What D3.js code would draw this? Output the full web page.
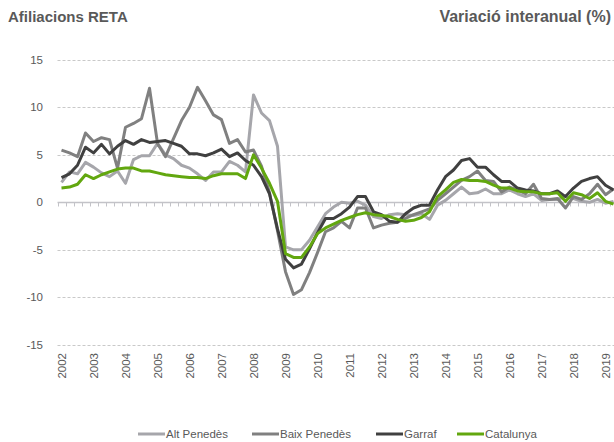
<!DOCTYPE html>
<html>
<head>
<meta charset="utf-8">
<script src="https://cdn.jsdelivr.net/npm/d3@7"></script>
<style>
  body { margin: 0; background: #fff; }
  svg { display: block; font-family: "Liberation Sans", Arial, sans-serif; }
</style>
</head>
<body>
<svg id="chart" width="614" height="442"></svg>
<script>
// quarterly data, 2002 T1 .. 2019 T2
const years = d3.range(2002, 2020);
const quarters = [];
years.forEach(y => [1, 2, 3, 4].forEach(q => quarters.push(y + "T" + q)));
const categories = quarters.slice(0, 70);

const altPenedes = [2.1, 3.2, 3.0, 4.2, 3.7, 3.1, 2.7, 3.3, 2.0, 4.5, 4.9, 4.9, 6.2, 5.0, 4.6, 3.9,
  3.6, 3.0, 2.3, 3.2, 3.2, 4.3, 3.9, 3.2, 11.3, 9.4, 8.6, 5.9, -4.7, -5.0, -5.0, -4.0,
  -2.6, -1.2, -0.5, 0.0, -0.1, 0.1, -0.3, -1.5, -1.7, -1.3, -1.2, -1.3, -1.4, -1.2, -1.8, -0.3,
  0.2, 0.9, 1.6, 0.9, 1.0, 1.4, 0.9, 0.9, 1.3, 0.9, 0.6, 0.9, 0.2, 0.3, 0.3, 0.6,
  0.4, 0.1, 0.0, 0.3, -0.1, 0.1];

const baixPenedes = [5.5, 5.2, 4.8, 7.3, 6.4, 6.8, 6.6, 3.6, 7.9, 8.3, 8.8, 12.0, 6.2, 4.8, 6.7, 8.6,
  10.0, 12.1, 10.7, 9.2, 8.7, 6.2, 6.6, 5.3, 5.5, 3.8, 1.0, -3.0, -7.3, -9.7, -9.2, -7.4,
  -5.3, -3.1, -2.7, -2.0, -2.7, -0.6, -0.6, -2.7, -2.4, -2.2, -2.1, -1.7, -1.3, -1.0, -0.7, 0.2,
  0.9, 1.6, 2.3, 2.7, 3.3, 2.3, 2.2, 1.1, 1.6, 1.3, 0.9, 1.9, 0.4, 0.3, 0.4, -0.6,
  0.6, 0.3, 0.9, 1.9, 0.8, 1.4];

const garraf = [2.6, 3.0, 3.9, 5.8, 5.2, 6.1, 5.1, 5.9, 6.5, 6.1, 6.6, 6.3, 6.4, 6.5, 6.2, 5.9,
  5.1, 5.1, 4.9, 5.2, 5.6, 4.8, 5.2, 4.4, 3.9, 2.7, 0.9, -2.8, -6.0, -6.9, -6.5, -4.9,
  -3.2, -1.7, -1.7, -1.2, -0.5, 0.6, 0.6, -1.0, -1.3, -2.0, -2.1, -1.2, -0.6, -0.3, -0.3, 1.3,
  2.7, 3.4, 4.4, 4.6, 3.7, 3.7, 2.9, 2.2, 2.2, 1.5, 1.3, 1.2, 0.9, 0.9, 1.2, 0.6,
  1.5, 2.2, 2.5, 2.7, 1.8, 1.3];

const catalunya = [1.5, 1.6, 1.9, 2.9, 2.5, 2.9, 3.2, 3.5, 3.6, 3.6, 3.3, 3.3, 3.1, 2.9, 2.8, 2.7,
  2.6, 2.6, 2.5, 2.8, 3.0, 3.0, 3.0, 2.5, 5.0, 3.6, 2.0, 0.1, -5.4, -5.8, -5.8, -4.7,
  -3.3, -2.7, -2.3, -1.9, -1.6, -1.3, -1.1, -1.3, -1.4, -1.5, -1.8, -2.0, -1.9, -1.6, -1.0, 0.6,
  1.3, 2.1, 2.4, 2.3, 2.3, 2.2, 1.8, 1.5, 1.5, 1.2, 1.1, 1.1, 0.9, 0.9, 1.0, 0.1,
  1.0, 0.8, 0.4, 1.0, 0.1, -0.2];

const seriesNames = ["Alt Penedès", "Baix Penedès", "Garraf", "Catalunya"];
const seriesValues = [altPenedes, baixPenedes, garraf, catalunya];
const colors = ["#a6a6ab", "#808080", "#404040", "#62a70f"];
const yTicks = [-15, -10, -5, 0, 5, 10, 15];

const svg = d3.select("#chart");
const textColor = "#595959";

const x = d3.scaleBand()
  .domain(categories)
  .range([57.5, 617.5]);

const y = d3.scaleLinear()
  .domain([-15, 15])
  .range([344.8, 59.8]);

// titles
svg.append("text")
  .attr("x", 8).attr("y", 22)
  .attr("font-size", 15).attr("font-weight", "bold")
  .attr("fill", textColor)
  .text("Afiliacions RETA");

svg.append("text")
  .attr("x", 611).attr("y", 22)
  .attr("text-anchor", "end")
  .attr("font-size", 16).attr("font-weight", "bold")
  .attr("fill", textColor)
  .text("Variació interanual (%)");

// gridlines
svg.append("g")
  .selectAll("line")
  .data(yTicks.filter(d => d !== 0))
  .enter()
  .append("line")
  .attr("x1", 57.5)
  .attr("x2", 614)
  .attr("y1", d => Math.round(y(d)) + 0.5)
  .attr("y2", d => Math.round(y(d)) + 0.5)
  .attr("stroke", "#c9c9c9")
  .attr("stroke-dasharray", "3,2")
  .attr("stroke-width", 1);

// y labels
const yAxis = svg.append("g")
  .attr("transform", "translate(43,0)")
  .call(d3.axisLeft(y).tickValues(yTicks).tickSize(0).tickPadding(0)
    .tickFormat(d => String(d)));
yAxis.select(".domain").remove();
yAxis.selectAll("text")
  .attr("font-size", 11.5)
  .attr("font-family", "Liberation Sans, Arial, sans-serif")
  .attr("fill", textColor);

// zero axis with quarter ticks
const y0 = Math.round(y(0)) + 0.5;
svg.append("line")
  .attr("x1", 57.5).attr("x2", 614)
  .attr("y1", y0).attr("y2", y0)
  .attr("stroke", "#c3c3c8")
  .attr("stroke-width", 1.5);

svg.append("g")
  .selectAll("line")
  .data(categories)
  .enter()
  .append("line")
  .attr("x1", d => Math.round(x(d)) + 0.5)
  .attr("x2", d => Math.round(x(d)) + 0.5)
  .attr("y1", y0)
  .attr("y2", y0 + 4)
  .attr("stroke", "#c3c3c8")
  .attr("stroke-width", 1);

// year labels (rotated)
svg.append("g")
  .selectAll("text")
  .data(categories.filter(d => d.endsWith("T1")))
  .enter()
  .append("text")
  .attr("transform", d => "translate(" + (x(d) + x.bandwidth() / 2) + ",353) rotate(-90)")
  .attr("text-anchor", "end")
  .attr("dy", "0.35em")
  .attr("font-size", 11.5)
  .attr("fill", textColor)
  .text(d => d.slice(0, 4));

// lines
const line = d3.line()
  .x((d, i) => x(categories[i]) + x.bandwidth() / 2)
  .y(d => y(d));

svg.append("g")
  .selectAll("path")
  .data(seriesValues)
  .enter()
  .append("path")
  .attr("d", line)
  .attr("fill", "none")
  .attr("stroke", (d, i) => colors[i])
  .attr("stroke-width", 3)
  .attr("stroke-linejoin", "round");

// legend
const legendX = [138, 252, 376, 457];
const legend = svg.append("g")
  .selectAll("g")
  .data(seriesNames)
  .enter()
  .append("g")
  .attr("transform", (d, i) => "translate(" + legendX[i] + ",434)");

legend.append("line")
  .attr("x1", 0).attr("x2", 27)
  .attr("stroke", (d, i) => colors[i])
  .attr("stroke-width", 3);

legend.append("text")
  .attr("x", 28)
  .attr("dy", "0.35em")
  .attr("font-size", 11.5)
  .attr("fill", textColor)
  .text(d => d);
</script>
</body>
</html>
